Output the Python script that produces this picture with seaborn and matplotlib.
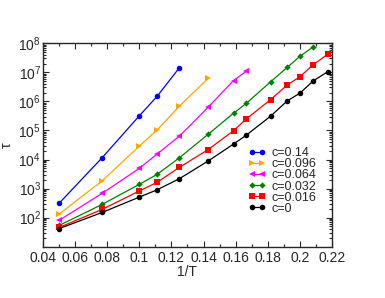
import numpy as np
import pandas as pd
import matplotlib
matplotlib.use('Agg')
import matplotlib.pyplot as plt
import seaborn as sns
from matplotlib.ticker import MultipleLocator, LogLocator, NullFormatter

# valores (1/T, tau)
x_014 = [0.05, 0.0769, 0.1, 0.1111, 0.125]
tau_014 = [314, 1.17e4, 3.2e5, 1.5e6, 1.45e7]

x_0096 = [0.05, 0.0769, 0.1, 0.1111, 0.125, 0.1429]
tau_0096 = [133, 1.87e3, 2.9e4, 1.04e5, 6.9e5, 6.2e6]

x_0064 = [0.05, 0.0769, 0.1, 0.1111, 0.125, 0.1429, 0.1587, 0.1667]
tau_0064 = [81, 690, 5.0e3, 1.55e4, 6.4e4, 6.3e5, 5.2e6, 1.1e7]

x_long = [0.05, 0.0769, 0.1, 0.1111, 0.125, 0.1429, 0.1587, 0.1667,
          0.1818, 0.1923, 0.2, 0.2083, 0.2174]
tau_0032 = [54, 288, 1.4e3, 3.1e3, 1.15e4, 7.4e4, 3.9e5, 8.6e5,
            4.7e6, 1.5e7, 3.5e7, 7.4e7]
tau_0016 = [46, 194, 830, 1.65e3, 5.4e3, 2.2e4, 9.8e4, 2.5e5,
            1.15e6, 3.7e6, 7.0e6, 1.8e7, 4.2e7]
tau_0 = [42, 152, 510, 910, 2.2e3, 8.9e3, 3.4e4, 6.9e4,
         3.1e5, 1.05e6, 1.9e6, 5.0e6, 1.05e7]

series = [
    ('c=0.14', x_014, tau_014, 'blue', 'o'),
    ('c=0.096', x_0096, tau_0096, 'orange', '>'),
    ('c=0.064', x_0064, tau_0064, 'magenta', '<'),
    ('c=0.032', x_long[:len(tau_0032)], tau_0032, 'green', 'D'),
    ('c=0.016', x_long, tau_0016, 'red', 's'),
    ('c=0', x_long, tau_0, 'black', 'o'),
]

sns.set_style('ticks')
plt.rcParams['font.family'] = ['Liberation Sans', 'DejaVu Sans']
plt.rcParams['mathtext.fontset'] = 'custom'
plt.rcParams['mathtext.rm'] = 'Liberation Sans'

fig = plt.figure(figsize=(3.85, 2.98), dpi=100)
ax = fig.add_axes([0.112, 0.172, 0.75, 0.683])

for label, xs, ys, cor, mk in series:
    df = pd.DataFrame({'x': xs, 'tau': ys})
    ms = 3.2 if mk == 'D' else 4
    sns.lineplot(data=df, x='x', y='tau', ax=ax, color=cor, marker=mk,
                 markersize=ms, markeredgewidth=0, linewidth=0.9, label=label)

ax.set_yscale('log')
ax.set_xlim(0.04, 0.22)
ax.set_ylim(10, 1e8)
ax.xaxis.set_minor_locator(MultipleLocator(0.01))
ax.set_xticks([0.04, 0.06, 0.08, 0.1, 0.12, 0.14, 0.16, 0.18, 0.2, 0.22])
ax.set_xticklabels(['0.04', '0.06', '0.08', '0.1', '0.12', '0.14', '0.16',
                    '0.18', '0.2', '0.22'])
ax.yaxis.set_minor_locator(LogLocator(base=10, subs=np.arange(2, 10), numticks=20))
ax.yaxis.set_minor_formatter(NullFormatter())
ax.set_yticks([1e2, 1e3, 1e4, 1e5, 1e6, 1e7, 1e8])
ax.set_yticklabels([r'$10^2$', r'$10^3$', r'$10^4$', r'$10^5$', r'$10^6$',
                    r'$10^7$', r'$10^8$'])

ax.tick_params(which='both', direction='in', top=True, right=True,
               labelsize=10, width=0.8, pad=3)
ax.tick_params(axis='y', pad=1.5)
ax.tick_params(which='major', length=4)
ax.tick_params(which='minor', length=2)
for s in ax.spines.values():
    s.set_linewidth(1)

ax.set_xlabel('1/T', fontsize=10, labelpad=0)
ax.set_ylabel('τ', fontsize=10)
ax.yaxis.set_label_coords(-0.1, 0.5)

ax.legend(loc='upper left', bbox_to_anchor=(0.69, 0.52), frameon=False,
          fontsize=9, numpoints=2, handlelength=1.4, handletextpad=0.4,
          labelspacing=-0.07, borderpad=0)

fig.savefig('out.png', dpi=100)
